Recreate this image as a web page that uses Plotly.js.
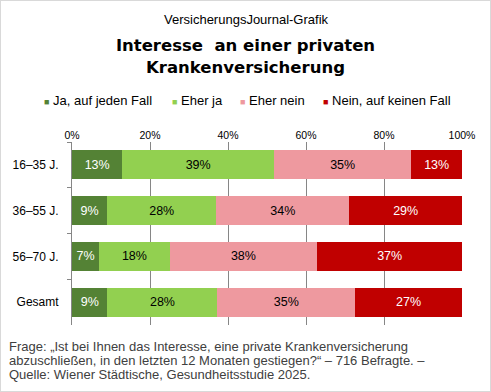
<!DOCTYPE html>
<html><head><meta charset="utf-8">
<script src="https://cdn.plot.ly/plotly-3.0.1.min.js"></script>
<style>
html,body{margin:0;padding:0;background:#fff;}
#chart{width:489px;height:390px;border:1px solid #d9d9d9;}
</style></head>
<body><div id="chart"></div>
<script>
const categories = ["16–35 J.", "36–55 J.", "56–70 J.", "Gesamt"];
const seriesNames = ["Ja, auf jeden Fall", "Eher ja", "Eher nein", "Nein, auf keinen Fall"];
const jaAufJedenFall = [12.9, 9.0, 7.0, 9.1];
const eherJa = [38.9, 28.0, 18.0, 28.2];
const eherNein = [35.2, 34.1, 37.9, 35.3];
const neinAufKeinenFall = [13.0, 28.9, 37.1, 27.4];
const xTickVals = [0, 20, 40, 60, 80, 100];
const xTickText = ["0%", "20%", "40%", "60%", "80%", "100%"];
const footnoteLines = [
  "Frage: „Ist bei Ihnen das Interesse, eine private Krankenversicherung",
  "abzuschließen, in den letzten 12 Monaten gestiegen?“ – 716 Befragte. –",
  "Quelle: Wiener Städtische, Gesundheitsstudie 2025."
];

const colors = ["#548235", "#92D050", "#EE999F", "#C00000"];
const textColors = ["#ffffff", "#000000", "#000000", "#ffffff"];
const values = [jaAufJedenFall, eherJa, eherNein, neinAufKeinenFall];
const FONT = "Liberation Sans, Arial, sans-serif";

const traces = values.map((v, i) => ({
  type: "bar",
  orientation: "h",
  name: seriesNames[i],
  y: categories,
  x: v,
  marker: {color: colors[i], line: {width: 0}},
  texttemplate: "%{x:.0f}%",
  textposition: "inside",
  insidetextanchor: "middle",
  constraintext: "none",
  textfont: {family: FONT, size: 12.5, color: textColors[i]},
  hoverinfo: "skip",
  showlegend: false
}));

const legendX = [-0.0736, 0.2538, 0.4282, 0.6410];
const legendY = 1.2295;
const annotations = seriesNames.map((n, i) => ({
  xref: "paper", yref: "paper", x: legendX[i], y: legendY,
  xanchor: "left", yanchor: "middle", showarrow: false, borderpad: 0,
  text: '<span style="color:' + colors[i] + ';font-size:9px">■</span> ' + n,
  font: {family: FONT, size: 13, color: "#000"}
}));
annotations.push({
  xref: "paper", yref: "paper", x: 0.4487, y: 1.672, xanchor: "center", yanchor: "middle",
  showarrow: false, text: "VersicherungsJournal-Grafik",
  font: {family: FONT, size: 13, color: "#000"}
});
const footY = [-0.1202, -0.1967, -0.2732];
footnoteLines.forEach((t, i) => annotations.push({
  xref: "paper", yref: "paper", x: -0.163, y: footY[i], xanchor: "left", yanchor: "middle",
  align: "left", showarrow: false, borderpad: 0, text: t,
  font: {family: FONT, size: 13, color: "#404040"}
}));

const layout = {
  width: 489, height: 390,
  margin: {l: 71, r: 28, t: 141, b: 66, pad: 0},
  paper_bgcolor: "#fff", plot_bgcolor: "#fff",
  barmode: "stack",
  bargap: 0.366,
  showlegend: false,
  title: {
    text: "<b>Interesse  an einer privaten<br>Krankenversicherung</b>",
    font: {family: "DejaVu Sans, sans-serif", size: 16.5, color: "#000"},
    x: 0.5, xanchor: "center", xref: "container",
    y: 0.871, yanchor: "middle", yref: "container"
  },
  xaxis: {
    side: "top", range: [0, 100], tickvals: xTickVals, ticktext: xTickText,
    showgrid: true, gridcolor: "#868686", gridwidth: 1, zeroline: false,
    showline: false, ticks: "",
    tickfont: {family: FONT, size: 10.5, color: "#000"}, fixedrange: true
  },
  yaxis: {
    type: "category", categoryarray: categories, autorange: "reversed",
    showline: true, linecolor: "#868686", linewidth: 1,
    ticks: "outside", ticklen: 4, tickcolor: "#868686", tickson: "boundaries",
    ticklabelstandoff: 10,
    showgrid: false, zeroline: false,
    tickfont: {family: FONT, size: 12, color: "#000"}, fixedrange: true
  },
  annotations: annotations
};

Plotly.newPlot("chart", traces, layout, {displayModeBar: false, staticPlot: true});
</script></body></html>
